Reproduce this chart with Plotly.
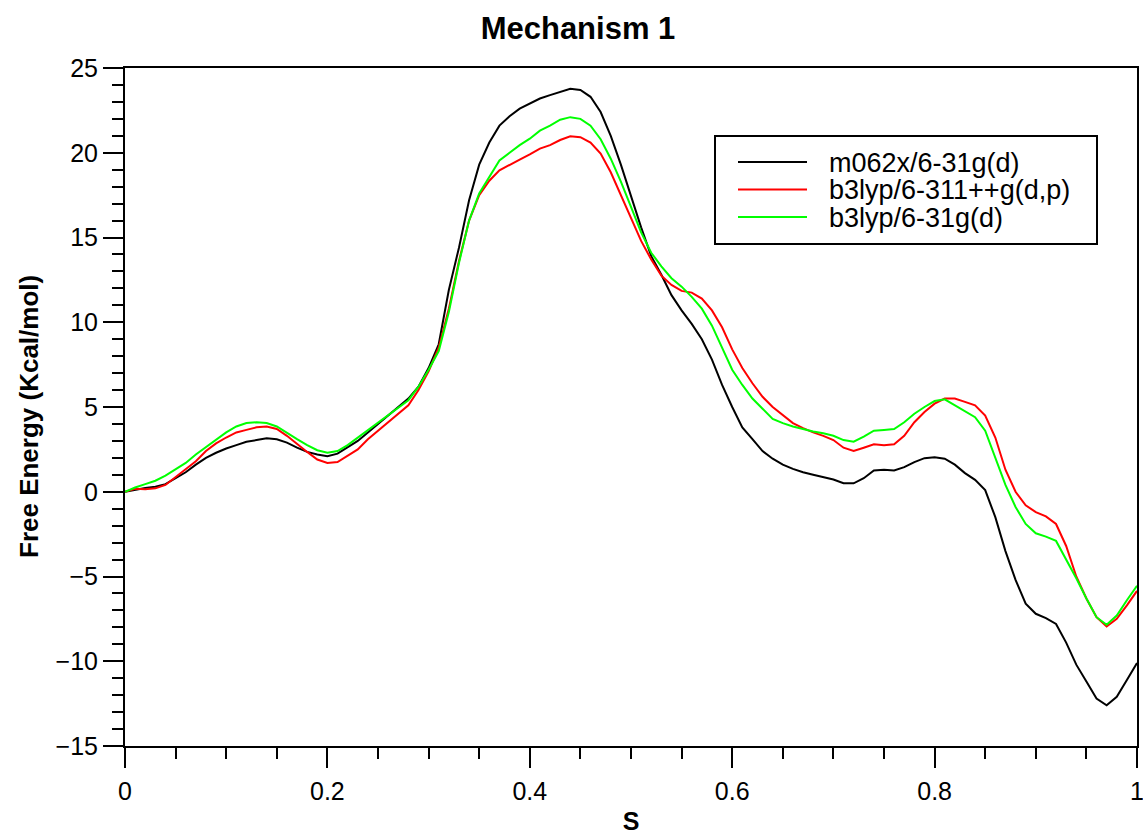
import plotly.graph_objects as go

# Reaction coordinate S and free-energy profiles (kcal/mol) for three levels of theory
s = [round(i * 0.01, 2) for i in range(101)]

m062x_631gd = [
    0.00, 0.12, 0.22, 0.30, 0.45, 0.80, 1.15, 1.60, 2.00, 2.30,
    2.55, 2.75, 2.95, 3.05, 3.15, 3.10, 2.90, 2.60, 2.35, 2.20,
    2.10, 2.25, 2.60, 3.00, 3.50, 4.00, 4.50, 4.95, 5.50, 6.20,
    7.30, 8.70, 11.90, 14.40, 17.20, 19.30, 20.60, 21.60, 22.15, 22.60,
    22.90, 23.20, 23.40, 23.60, 23.78, 23.70, 23.30, 22.40, 21.00, 19.30,
    17.40, 15.60, 13.90, 12.80, 11.60, 10.70, 9.90, 9.00, 7.80, 6.30,
    5.00, 3.80, 3.10, 2.40, 1.95, 1.60, 1.35, 1.15, 1.00, 0.85,
    0.72, 0.50, 0.50, 0.80, 1.25, 1.30, 1.25, 1.45, 1.75, 1.98,
    2.03, 1.95, 1.60, 1.10, 0.70, 0.10, -1.50, -3.50, -5.20, -6.60,
    -7.20, -7.45, -7.80, -8.90, -10.20, -11.20, -12.20, -12.60, -12.10, -11.10,
    -10.10,
]

b3lyp_6311ppgdp = [
    0.00, 0.18, 0.15, 0.20, 0.40, 0.85, 1.30, 1.80, 2.40, 2.85,
    3.20, 3.50, 3.65, 3.80, 3.85, 3.70, 3.30, 2.80, 2.35, 1.90,
    1.70, 1.75, 2.15, 2.50, 3.10, 3.60, 4.10, 4.65, 5.10, 6.00,
    7.10, 8.50, 10.80, 13.60, 16.00, 17.50, 18.35, 18.96, 19.30, 19.60,
    19.90, 20.24, 20.45, 20.75, 20.97, 20.92, 20.60, 19.95, 18.85, 17.50,
    16.10, 14.80, 13.70, 12.75, 12.20, 11.85, 11.75, 11.40, 10.70, 9.70,
    8.40, 7.30, 6.40, 5.60, 5.00, 4.50, 4.05, 3.75, 3.50, 3.30,
    3.05, 2.60, 2.40, 2.60, 2.80, 2.75, 2.80, 3.30, 4.10, 4.70,
    5.20, 5.50, 5.50, 5.30, 5.10, 4.50, 3.20, 1.30, 0.00, -0.80,
    -1.20, -1.45, -1.90, -3.20, -5.00, -6.30, -7.40, -7.95, -7.50, -6.70,
    -5.85,
]

b3lyp_631gd = [
    0.00, 0.25, 0.45, 0.65, 0.95, 1.30, 1.70, 2.20, 2.65, 3.10,
    3.50, 3.85, 4.05, 4.10, 4.05, 3.85, 3.45, 3.10, 2.75, 2.45,
    2.30, 2.40, 2.75, 3.20, 3.60, 4.10, 4.55, 5.00, 5.40, 6.20,
    7.20, 8.30, 10.60, 13.50, 16.00, 17.60, 18.60, 19.55, 20.00, 20.45,
    20.83, 21.30, 21.60, 21.95, 22.10, 22.00, 21.60, 20.80, 19.65, 18.30,
    16.80, 15.30, 14.10, 13.30, 12.60, 12.10, 11.50, 10.80, 9.80, 8.50,
    7.20, 6.30, 5.50, 4.90, 4.30, 4.05, 3.85, 3.70, 3.55, 3.45,
    3.30, 3.05, 2.95, 3.25, 3.60, 3.65, 3.70, 4.10, 4.60, 5.00,
    5.35, 5.45, 5.10, 4.70, 4.40, 3.60, 2.00, 0.40, -0.90, -1.90,
    -2.45, -2.65, -2.90, -4.00, -5.10, -6.30, -7.40, -7.85, -7.30, -6.40,
    -5.55,
]

series_names = ["m062x/6-31g(d)", "b3lyp/6-311++g(d,p)", "b3lyp/6-31g(d)"]
series_values = [m062x_631gd, b3lyp_6311ppgdp, b3lyp_631gd]
series_colors = ["#000000", "#ff0000", "#00ff00"]

FONT = "Liberation Sans, Arial, Helvetica, sans-serif"

W, H = 1143, 837
M_L, M_R, M_T, M_B = 125, 6, 68, 91
PW, PH = W - M_L - M_R, H - M_T - M_B


def px_to_paper(px, py):
    """Convert figure pixel position to paper coordinates."""
    return (px - M_L) / PW, (H - M_B - py) / PH


fig = go.Figure()
for name, vals, color in zip(series_names, series_values, series_colors):
    fig.add_trace(go.Scatter(
        x=s, y=vals, mode="lines", name=name,
        line=dict(color=color, width=2), showlegend=False,
    ))

# Boxed key in the upper right of the plot area
shapes = []
annotations = []
bx0, by0 = px_to_paper(715, 136)
bx1, by1 = px_to_paper(1097, 244)
shapes.append(dict(type="rect", xref="paper", yref="paper",
                   x0=bx0, x1=bx1, y0=by1, y1=by0,
                   line=dict(color="black", width=2), fillcolor="white",
                   layer="above"))
row_y = [162, 189.5, 217]
for name, color, ry in zip(series_names, series_colors, row_y):
    lx0, ly = px_to_paper(738, ry)
    lx1, _ = px_to_paper(807, ry)
    tx, ty = px_to_paper(827, ry + 1)
    shapes.append(dict(type="line", xref="paper", yref="paper",
                       x0=lx0, x1=lx1, y0=ly, y1=ly,
                       line=dict(color=color, width=2), layer="above"))
    annotations.append(dict(text=name, xref="paper", yref="paper",
                            x=tx, y=ty, xanchor="left", yanchor="middle",
                            showarrow=False,
                            font=dict(family=FONT, size=27, color="black")))

# Rotated y-axis caption
yx, yy = px_to_paper(29, 417)
annotations.append(dict(text="<b>Free Energy (Kcal/mol)</b>", xref="paper",
                        yref="paper", x=yx, y=yy, xanchor="center",
                        yanchor="middle", textangle=-90, showarrow=False,
                        font=dict(family=FONT, size=26, color="black")))

fig.update_layout(
    width=W, height=H,
    margin=dict(l=M_L, r=M_R, t=M_T, b=M_B),
    paper_bgcolor="white", plot_bgcolor="white",
    font=dict(family=FONT, size=25, color="black"),
    title=dict(
        text="<b>Mechanism 1</b>", font=dict(family=FONT, size=31, color="black"),
        x=578 / W, xref="container", xanchor="center",
        y=1 - 28 / H, yref="container", yanchor="middle",
    ),
    shapes=shapes,
    annotations=annotations,
)

fig.update_xaxes(
    range=[0, 1], dtick=0.2, tick0=0,
    showgrid=False, zeroline=False, automargin=False,
    showline=True, linecolor="black", linewidth=2, mirror=True,
    ticks="outside", ticklen=20, tickwidth=2, tickcolor="black",
    ticklabelstandoff=2, ticklabeloverflow="allow",
    minor=dict(dtick=0.05, tick0=0, ticks="outside", ticklen=11, tickwidth=2,
               tickcolor="black", showgrid=False),
    tickfont=dict(family=FONT, size=25, color="black"),
    title=dict(text="<b>S</b>", font=dict(family=FONT, size=25, color="black"),
               standoff=8),
)

fig.update_yaxes(
    range=[-15, 25], dtick=5, tick0=0,
    showgrid=False, zeroline=False, automargin=False,
    showline=True, linecolor="black", linewidth=2, mirror=True,
    ticks="outside", ticklen=20, tickwidth=2, tickcolor="black",
    minor=dict(dtick=1, tick0=0, ticks="outside", ticklen=11, tickwidth=2,
               tickcolor="black", showgrid=False),
    tickfont=dict(family=FONT, size=25, color="black"),
)

fig.write_html("out.html")
